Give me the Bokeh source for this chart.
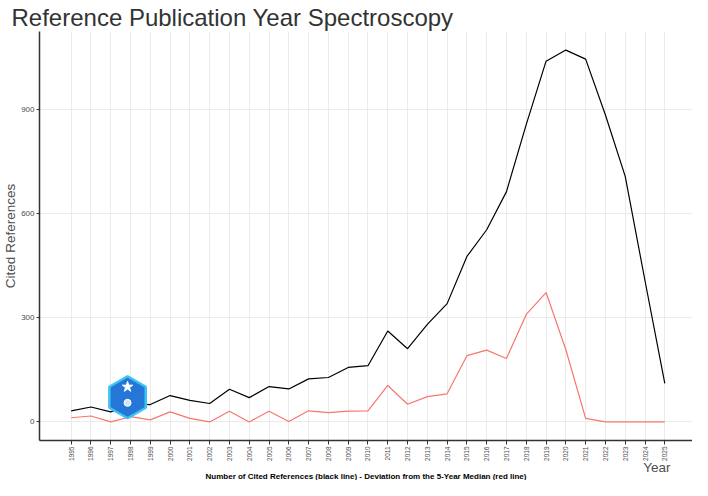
import math
from bokeh.plotting import figure
from bokeh.models import ColumnDataSource, Range1d, FixedTicker, Title
from bokeh.embed import file_html
from bokeh.resources import INLINE

# ---- data ----
years = list(range(1995, 2026))
cited = [32, 43, 29, 52, 50, 76, 62, 53, 94, 70,
         102, 95, 124, 128, 157, 162, 262, 211, 281, 341,
         477, 554, 664, 858, 1040, 1072, 1046, 885, 708, 407,
         111]
deviation = [12, 17, 0, 15, 6, 29, 10, 0, 31, 0,
             31, 1, 32, 27, 31, 32, 105, 51, 73, 81,
             191, 207, 183, 310, 373, 208, 10, 0, 0, 0,
             0]
y_ticks = [0, 300, 600, 900]
title_text = "Reference Publication Year Spectroscopy"
y_label = "Cited References"
x_label = "Year"
caption = "Number of Cited References (black line) - Deviation from the 5-Year Median (red line)"

FONT = "Liberation Sans"

src = ColumnDataSource(dict(year=years, cited=cited, dev=deviation))

p = figure(width=692, height=480, output_backend="svg", toolbar_location=None,
           x_range=Range1d(1993.4, 2026.4), y_range=Range1d(-53.6, 1125.6),
           min_border_left=0, min_border_right=0, min_border_top=0, min_border_bottom=0)
p.outline_line_color = None
p.background_fill_color = "white"
p.border_fill_color = "white"

# title
p.title.text = title_text
p.title.text_font = FONT
p.title.text_font_size = "24px"
p.title.text_font_style = "normal"
p.title.text_color = "#333333"
p.title.align = "left"
p.title.offset = -28
p.title.standoff = 2

# grid
p.xgrid.grid_line_color = "#ebebeb"
p.ygrid.grid_line_color = "#ebebeb"
p.xgrid.grid_line_width = 1
p.ygrid.grid_line_width = 1

# axes
p.xaxis.ticker = FixedTicker(ticks=years)
p.yaxis.ticker = FixedTicker(ticks=y_ticks)
for ax in (p.xaxis[0], p.yaxis[0]):
    ax.axis_line_color = "#333333"
    ax.axis_line_width = 1.5
    ax.major_tick_line_color = "#333333"
    ax.major_tick_in = 0
    ax.minor_tick_line_color = None
    ax.major_label_text_font = FONT
    ax.major_label_text_color = "#4d4d4d"
p.xaxis.major_tick_out = 4
p.yaxis.major_tick_out = 3
p.xaxis.major_label_orientation = math.pi / 2
p.xaxis.major_label_text_font_size = "6.5px"
p.xaxis.major_label_standoff = 2
p.yaxis.major_label_text_font_size = "8px"
p.yaxis.major_label_standoff = 2
p.yaxis.axis_label = y_label
p.yaxis.axis_label_text_font = FONT
p.yaxis.axis_label_text_font_size = "13.5px"
p.yaxis.axis_label_text_font_style = "normal"
p.yaxis.axis_label_text_color = "#4d4d4d"
p.yaxis.axis_label_standoff = 0

# lines
p.line("year", "cited", source=src, line_color="black", line_width=1.2)
p.line("year", "dev", source=src, line_color="#F8766D", line_width=1.2)

# logo badge
p.scatter(x=[1997.85], y=[71], marker="hex", size=42, angle=math.pi / 2,
          fill_color="#2477d6", line_color="#3fc3f2", line_width=2.5)
p.scatter(x=[1997.85], y=[101], marker="star", size=11, fill_color="white", line_color="white")
p.scatter(x=[1997.85], y=[55], marker="circle", size=7, fill_color="white", line_color="white", fill_alpha=0.8)

# bottom texts
p.add_layout(Title(text=x_label, align="right", offset=22, standoff=-11, text_font=FONT,
                   text_font_size="13.5px", text_font_style="normal", text_color="#4d4d4d"), "below")
p.add_layout(Title(text=caption, align="center", standoff=0, text_font=FONT,
                   text_font_size="8px", text_font_style="bold", text_color="black"), "below")

open("out.html", "w").write(file_html(p, INLINE))
